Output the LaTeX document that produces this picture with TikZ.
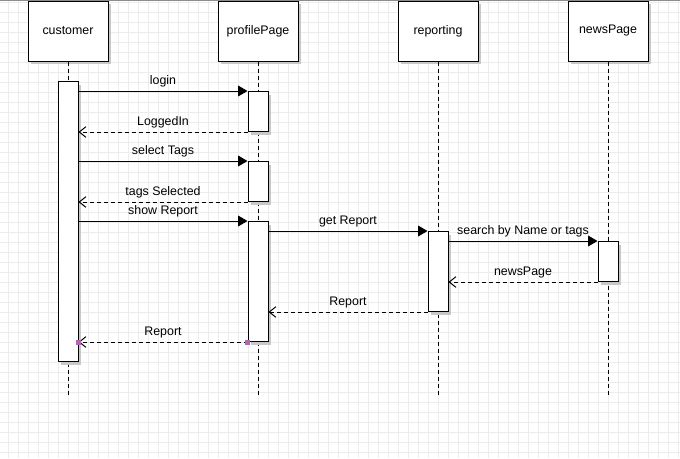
\documentclass[tikz,border=0pt]{standalone}
\usepackage{fontspec}
\setmainfont{Liberation Sans}
\usetikzlibrary{shadows,arrows.meta}
\definecolor{gridc}{RGB}{236,236,236}
\definecolor{shadowc}{RGB}{200,200,200}
\definecolor{handlec}{RGB}{178,102,178}
\definecolor{topc}{RGB}{140,140,140}
\begin{document}
\begin{tikzpicture}[x=0.75pt,y=-0.75pt,
  font=\fontsize{9.3pt}{11pt}\selectfont,
  shad/.style={general shadow={fill=shadowc, shadow xshift=2.6pt, shadow yshift=-2.6pt}},
  hdr/.style={draw, line width=0.75pt, fill=white, minimum width=60pt, minimum height=45pt, inner sep=0pt, shad},
  act/.style={draw, line width=0.75pt, fill=white, minimum width=15pt, inner sep=0pt, anchor=north, shad},
  life/.style={line width=0.75pt, dash pattern=on 3pt off 2.25pt},
  call/.style={line width=0.75pt, -{Triangle[length=7pt,width=8pt]}},
  ret/.style={line width=0.75pt, dash pattern=on 3pt off 2.25pt, -{Straight Barb[length=5pt,width=8pt]}},
  lbl/.style={inner sep=0pt, text height=7pt, text depth=2pt, midway, yshift=7.5pt},
  handle/.style={fill=handlec, inner sep=0pt, minimum size=3.75pt}]
\useasboundingbox (0,0) rectangle (680,458);
\fill[white] (0,0) rectangle (680,458);
% grid
\foreach \gx in {8,18,...,678} \draw[gridc, line width=0.75pt] (\gx,0) -- (\gx,458);
\foreach \gy in {2,12,...,452} \draw[gridc, line width=0.75pt] (0,\gy) -- (680,\gy);
\draw[topc, line width=0.75pt] (0,0.5) -- (680,0.5);
% headers
\node[hdr] (customer) at (68,31) {customer};
\node[hdr] (profile) at (258,31) {profilePage};
\node[hdr] (reporting) at (438,31) {reporting};
\node[hdr] (news) at (608,31) {newsPage};
\coordinate (endc) at (0,397);
% lifelines
\draw[life] (customer.south) -- (customer.south |- endc);
\draw[life] (profile.south) -- (profile.south |- endc);
\draw[life] (reporting.south) -- (reporting.south |- endc);
\draw[life] (news.south) -- (news.south |- endc);
% activation bars
\node[act, minimum height=210pt] (cA) at (68,81) {};
\node[act, minimum height=30pt] (pA1) at (258,91) {};
\node[act, minimum height=30pt] (pA2) at (258,161) {};
\node[act, minimum height=90pt] (pA3) at (258,221) {};
\node[act, minimum height=60pt] (rA) at (438,231) {};
\node[act, minimum height=30pt] (nA) at (608,241) {};
% messages
\draw[call] (cA.east |- pA1.north) -- (pA1.north west) node[lbl] {login};
\draw[ret] (pA1.south west) -- (cA.east |- pA1.south) node[lbl] {LoggedIn};
\draw[call] (cA.east |- pA2.north) -- (pA2.north west) node[lbl] {select Tags};
\draw[ret] (pA2.south west) -- (cA.east |- pA2.south) node[lbl] {tags Selected};
\draw[call] (cA.east |- pA3.north) -- (pA3.north west) node[lbl] {show Report};
\draw[call] (pA3.east |- rA.north) -- (rA.north west) node[lbl] {get Report};
\draw[call] (rA.east |- nA.north) -- (nA.north west) node[lbl] {search by Name or tags};
\draw[ret] (nA.south west) -- (rA.east |- nA.south) node[lbl] {newsPage};
\draw[ret] (rA.south west) -- (pA3.east |- rA.south) node[lbl] {Report};
\draw[ret] (pA3.south west) -- (cA.east |- pA3.south) node[lbl] {Report};
% selection handles
\node[handle] (h1) at (pA3.south west) {};
\node[handle] (h2) at (cA.east |- pA3.south) {};
\end{tikzpicture}
\end{document}
